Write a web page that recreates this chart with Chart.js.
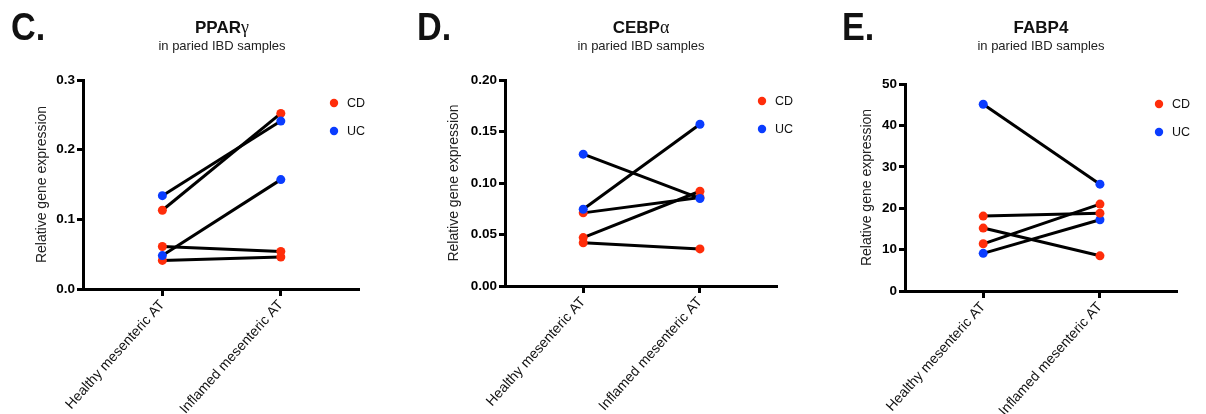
<!DOCTYPE html>
<html>
<head>
<meta charset="utf-8">
<script src="https://cdn.jsdelivr.net/npm/chart.js@4"></script>
<style>
    html, body { margin: 0; padding: 0; background: #fff; }
    body { width: 1206px; height: 414px; position: relative; overflow: hidden; font-family: "Liberation Sans", Arial, Helvetica, sans-serif; color: #111; }
    .panel { position: absolute; top: 0; height: 414px; }
    .panel canvas { position: absolute; left: 0; top: 0; }
    .letter { position: absolute; font-size: 38px; font-weight: bold; line-height: 38px; transform: scaleX(0.9); transform-origin: left top; }
    .ttl { position: absolute; font-size: 17px; font-weight: bold; line-height: 17px; white-space: nowrap; transform: translateX(-50%); }
    .ttl .gk { font-family: "Liberation Serif", "DejaVu Serif", serif; font-weight: normal; font-size: 18px; }
    .sub { position: absolute; font-size: 13px; line-height: 13px; white-space: nowrap; transform: translateX(-50%); color: #222; }
</style>
</head>
<body>

<div class="panel" id="panel-c" style="left:0;width:400px">
    <canvas id="chart-c" width="400" height="414"></canvas>
</div>
<div class="panel" id="panel-d" style="left:400px;width:400px">
    <canvas id="chart-d" width="400" height="414"></canvas>
</div>
<div class="panel" id="panel-e" style="left:800px;width:406px">
    <canvas id="chart-e" width="406" height="414"></canvas>
</div>

<div class="letter" style="left:11px;top:8px">C.</div>
<div class="letter" style="left:417px;top:8px">D.</div>
<div class="letter" style="left:842px;top:8px">E.</div>

<div class="ttl" style="left:222px;top:19px">PPAR<span class="gk">γ</span></div>
<div class="sub" style="left:222px;top:39px">in paried IBD samples</div>
<div class="ttl" style="left:641px;top:19px">CEBP<span class="gk">α</span></div>
<div class="sub" style="left:641px;top:39px">in paried IBD samples</div>
<div class="ttl" style="left:1041px;top:19px">FABP4</div>
<div class="sub" style="left:1041px;top:39px">in paried IBD samples</div>

<script>
'use strict';

// x categories, shared by all three panels
var sites = ['Healthy mesenteric AT', 'Inflamed mesenteric AT'];

// PPARγ, one entry per patient (healthy / inflamed / disease)
var pparHealthy  = [0.134, 0.113, 0.061, 0.048, 0.041];
var pparInflamed = [0.241, 0.252, 0.054, 0.157, 0.046];
var pparGroup    = ['UC', 'CD', 'CD', 'UC', 'CD'];
var pparTicks    = [0, 0.1, 0.2, 0.3];

// CEBPα
var cebpHealthy  = [0.128, 0.0745, 0.071, 0.047, 0.042];
var cebpInflamed = [0.085, 0.157, 0.086, 0.092, 0.036];
var cebpGroup    = ['UC', 'UC', 'CD', 'CD', 'CD'];
var cebpTicks    = [0, 0.05, 0.10, 0.15, 0.20];

// FABP4
var fabpHealthy  = [45.1, 18.1, 15.2, 11.4, 9.1];
var fabpInflamed = [25.8, 18.8, 8.5, 21.0, 17.2];
var fabpGroup    = ['UC', 'CD', 'CD', 'CD', 'UC'];
var fabpTicks    = [0, 10, 20, 30, 40, 50];

var groupNames  = ['CD', 'UC'];
var groupColors = { CD: '#ff2d0a', UC: '#0a3cff' };

var FONT = '"Liberation Sans", Arial, Helvetica, sans-serif';

// small CD / UC key drawn inside the plot
var groupKey = {
    id: 'groupKey',
    afterDraw: function(chart, args, opts) {
        var ctx = chart.ctx;
        ctx.save();
        ctx.font = '12.5px ' + FONT;
        ctx.textBaseline = 'middle';
        ctx.textAlign = 'left';
        groupNames.forEach(function(g, i) {
            var y = opts.y + i * 28;
            ctx.fillStyle = groupColors[g];
            ctx.beginPath();
            ctx.arc(opts.x, y, 4.2, 0, Math.PI * 2);
            ctx.fill();
            ctx.fillStyle = '#111';
            ctx.fillText(g, opts.x + 13, y + 1);
        });
        ctx.restore();
    }
};

function pairedChart(id, healthy, inflamed, groups, ticks, decimals, box) {
    var datasets = healthy.map(function(h, i) {
        var c = groupColors[groups[i]];
        return {
            label: groups[i],
            data: [{ x: 0, y: h }, { x: 1, y: inflamed[i] }],
            borderColor: '#000',
            borderWidth: 3,
            pointRadius: 4.5,
            pointHoverRadius: 4.5,
            pointBorderWidth: 0,
            pointBackgroundColor: c,
            tension: 0
        };
    });

    return new Chart(document.getElementById(id), {
        type: 'line',
        data: { datasets: datasets },
        plugins: [groupKey],
        options: {
            responsive: false,
            animation: false,
            events: [],
            layout: { padding: { left: box.padLeft, right: box.padRight, top: box.top, bottom: 0 } },
            plugins: {
                legend: { display: false },
                tooltip: { enabled: false },
                groupKey: { x: box.keyX, y: box.keyY }
            },
            scales: {
                x: {
                    type: 'linear',
                    min: -0.67,
                    max: 1.66,
                    afterBuildTicks: function(axis) { axis.ticks = [{ value: 0 }, { value: 1 }]; },
                    afterFit: function(axis) { axis.height = 414 - box.bottom; },
                    border: { display: true, color: '#000', width: 3 },
                    grid: { drawOnChartArea: false, drawTicks: true, tickLength: 7, tickWidth: 3, tickColor: '#000' },
                    ticks: {
                        autoSkip: false,
                        minRotation: 48,
                        maxRotation: 48,
                        padding: 1,
                        color: '#111',
                        font: { family: FONT, size: 14 },
                        callback: function(v) { return sites[v]; }
                    }
                },
                y: {
                    min: ticks[0],
                    max: ticks[ticks.length - 1],
                    afterBuildTicks: function(axis) { axis.ticks = ticks.map(function(t) { return { value: t }; }); },
                    afterFit: function(axis) { axis.width = box.left - box.padLeft; },
                    border: { display: true, color: '#000', width: 3 },
                    grid: { drawOnChartArea: false, drawTicks: true, tickLength: 6, tickWidth: 3, tickColor: '#000' },
                    ticks: {
                        padding: 2,
                        color: '#000',
                        font: { family: FONT, size: 13.5, weight: 'bold' },
                        callback: function(v) { return v.toFixed(decimals); }
                    },
                    title: {
                        display: true,
                        text: 'Relative gene expression',
                        color: '#222',
                        padding: 0,
                        font: { family: FONT, size: 14 }
                    }
                }
            }
        }
    });
}

pairedChart('chart-c', pparHealthy, pparInflamed, pparGroup, pparTicks, 1,
    { padLeft: 34, left: 83, padRight: 41, top: 80, bottom: 289, keyX: 334, keyY: 103 });
pairedChart('chart-d', cebpHealthy, cebpInflamed, cebpGroup, cebpTicks, 2,
    { padLeft: 46, left: 105, padRight: 23, top: 80, bottom: 286, keyX: 362, keyY: 101 });
pairedChart('chart-e', fabpHealthy, fabpInflamed, fabpGroup, fabpTicks, 0,
    { padLeft: 59, left: 105, padRight: 29, top: 84, bottom: 291, keyX: 359, keyY: 104 });
</script>
</body>
</html>
